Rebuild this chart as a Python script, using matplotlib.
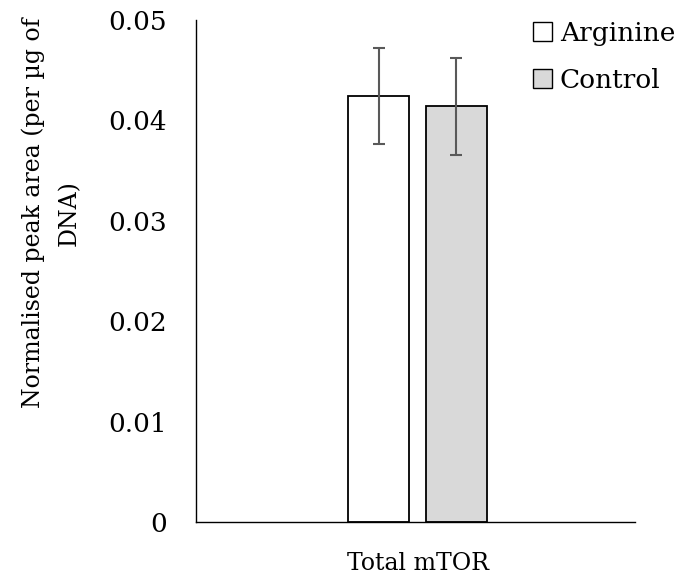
import numpy as np
import matplotlib
matplotlib.use('Agg')
import matplotlib.pyplot as plt
from matplotlib.patches import Patch

categories = ["Total mTOR"]
series = ["Arginine", "Control"]
values = {"Arginine": [0.0424], "Control": [0.0414]}
errors = {"Arginine": [0.0048], "Control": [0.0048]}
colors = {"Arginine": "white", "Control": "#d9d9d9"}

plt.rcParams['font.family'] = ['DejaVu Serif']
plt.rcParams['font.size'] = 17

fig = plt.figure(figsize=(6.79, 5.81), dpi=100)
ax = fig.add_axes([0.2887, 0.1015, 0.6463, 0.8641])

x = np.arange(len(categories))
width = 0.139
offsets = [-0.0885, 0.0885]
for s, off in zip(series, offsets):
    ax.bar(x + off, values[s], width, color=colors[s], edgecolor='black',
           linewidth=1.3, yerr=errors[s], capsize=4.5,
           error_kw=dict(ecolor='#595959', elinewidth=1.5, capthick=1.5))

ax.set_xlim(-0.505, 0.495)
ax.set_ylim(0, 0.05)
ax.set_yticks([0, 0.01, 0.02, 0.03, 0.04, 0.05])
ax.set_yticklabels(["0", "0.01", "0.02", "0.03", "0.04", "0.05"], fontsize=19)
ax.set_xticks(x)
ax.set_xticklabels(categories, fontsize=17)
ax.tick_params(axis='both', length=0)
ax.tick_params(axis='y', pad=21)
ax.tick_params(axis='x', pad=21.5)
for sp in ['top', 'right']:
    ax.spines[sp].set_visible(False)
for sp in ['left', 'bottom']:
    ax.spines[sp].set_linewidth(1.0)

ax.set_ylabel("Normalised peak area (per µg of\nDNA)", fontsize=17, linespacing=1.75)
ax.yaxis.set_label_coords(-0.262, 0.615)

handles = [Patch(facecolor=colors[s], edgecolor='black', linewidth=1.0) for s in series]
fig.legend(handles, series, loc='upper left', bbox_to_anchor=(533 / 679, 1 - 21 / 581),
           frameon=False, borderpad=0, borderaxespad=0, handlelength=0.72,
           handleheight=0.72, handletextpad=0.3, labelspacing=0.83, fontsize=19)

fig.savefig("out.png", dpi=100)
